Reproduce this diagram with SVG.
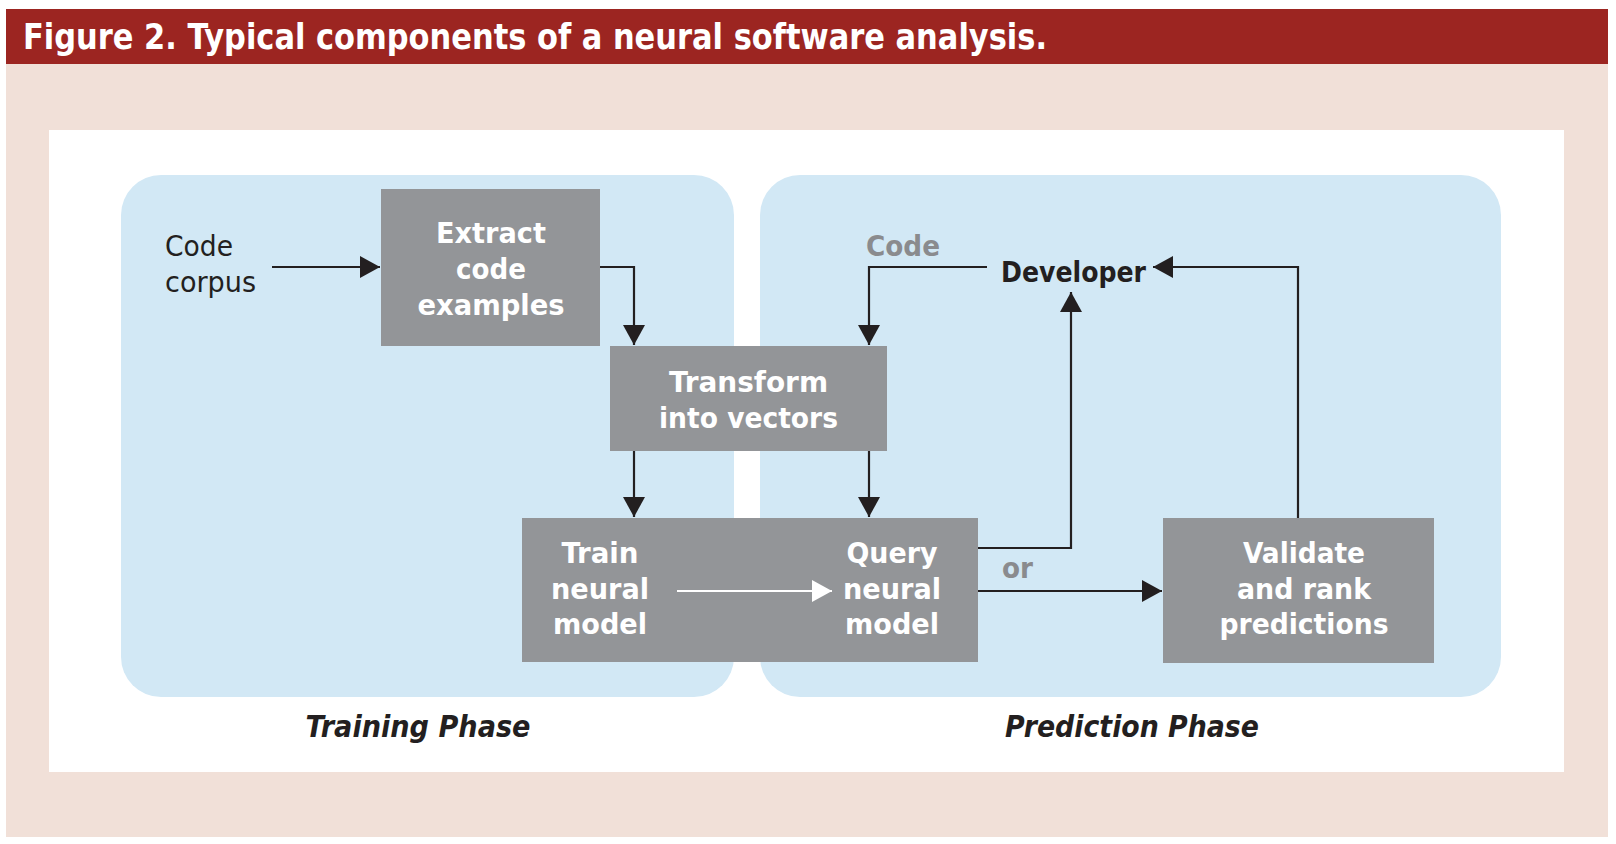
<svg xmlns="http://www.w3.org/2000/svg" width="1616" height="844" viewBox="0 0 1616 844">
<style>
.bg{fill:#ffffff}
.hdr{fill:#9c2521}
.pink{fill:#f1e0d8}
.panel{fill:#d2e8f5}
.box{fill:#939598}
.title{font-family:"DejaVu Sans Condensed","DejaVu Sans",sans-serif;font-stretch:condensed;font-weight:bold;font-size:36px;fill:#ffffff}
.bt{font-family:"DejaVu Sans Condensed","DejaVu Sans",sans-serif;font-stretch:condensed;font-weight:bold;font-size:29px;fill:#ffffff;text-anchor:middle}
.rt{font-family:"DejaVu Sans Condensed","DejaVu Sans",sans-serif;font-stretch:condensed;font-size:29px;fill:#231f20}
.dev{font-family:"DejaVu Sans Condensed","DejaVu Sans",sans-serif;font-stretch:condensed;font-weight:600;font-size:29px;fill:#231f20}
.gt{font-family:"DejaVu Sans Condensed","DejaVu Sans",sans-serif;font-stretch:condensed;font-weight:bold;font-size:28px;fill:#8a8b8e}
.ph{font-family:"DejaVu Sans Condensed","DejaVu Sans",sans-serif;font-stretch:condensed;font-weight:bold;font-style:italic;font-size:30px;fill:#231f20;text-anchor:middle}
.ln{fill:none;stroke:#231f20;stroke-width:2.2}
.wl{fill:none;stroke:#ffffff;stroke-width:2.2}
</style>
<defs>
<marker id="ah" markerUnits="userSpaceOnUse" markerWidth="20" markerHeight="22" refX="20" refY="11" orient="auto"><path d="M0,0 L20,11 L0,22 z" fill="#231f20"/></marker>
<marker id="ahw" markerUnits="userSpaceOnUse" markerWidth="20" markerHeight="22" refX="20" refY="11" orient="auto"><path d="M0,0 L20,11 L0,22 z" fill="#ffffff"/></marker>
</defs>
<rect class="bg" x="0" y="0" width="1616" height="844"/>
<rect class="pink" x="6" y="64" width="1602" height="773"/>
<rect class="hdr" x="6" y="9" width="1602" height="55"/>
<text class="title" x="23" y="49" textLength="1024" lengthAdjust="spacingAndGlyphs">Figure 2. Typical components of a neural software analysis.</text>
<rect class="bg" x="49" y="130" width="1515" height="642"/>
<g id="training-phase">
<rect class="panel" x="121" y="175" width="613" height="522" rx="40" ry="40"/>
<text class="ph" x="418" y="737" textLength="225" lengthAdjust="spacingAndGlyphs">Training Phase</text>
</g>
<g id="prediction-phase">
<rect class="panel" x="760" y="175" width="741" height="522" rx="40" ry="40"/>
<text class="ph" x="1132" y="737" textLength="254" lengthAdjust="spacingAndGlyphs">Prediction Phase</text>
</g>
<g id="code-corpus">
<text class="rt" x="165" y="256" textLength="68" lengthAdjust="spacingAndGlyphs">Code</text>
<text class="rt" x="165" y="292" textLength="91" lengthAdjust="spacingAndGlyphs">corpus</text>
</g>
<g id="extract">
<rect class="box" x="381" y="189" width="219" height="157"/>
<text class="bt" x="491" y="243" textLength="110" lengthAdjust="spacingAndGlyphs">Extract</text>
<text class="bt" x="491" y="279" textLength="70" lengthAdjust="spacingAndGlyphs">code</text>
<text class="bt" x="491" y="315" textLength="147" lengthAdjust="spacingAndGlyphs">examples</text>
</g>
<g id="transform">
<rect class="box" x="610" y="346" width="277" height="105"/>
<text class="bt" x="748.5" y="392" textLength="159" lengthAdjust="spacingAndGlyphs">Transform</text>
<text class="bt" x="748.5" y="428" textLength="179" lengthAdjust="spacingAndGlyphs">into vectors</text>
</g>
<g id="model">
<rect class="box" x="522" y="518" width="456" height="144"/>
<g id="train">
<text class="bt" x="600" y="563" textLength="77" lengthAdjust="spacingAndGlyphs">Train</text>
<text class="bt" x="600" y="599" textLength="98" lengthAdjust="spacingAndGlyphs">neural</text>
<text class="bt" x="600" y="634" textLength="94" lengthAdjust="spacingAndGlyphs">model</text>
</g>
<g id="query">
<text class="bt" x="892" y="563" textLength="91" lengthAdjust="spacingAndGlyphs">Query</text>
<text class="bt" x="892" y="599" textLength="98" lengthAdjust="spacingAndGlyphs">neural</text>
<text class="bt" x="892" y="634" textLength="94" lengthAdjust="spacingAndGlyphs">model</text>
</g>
</g>
<g id="developer">
<text class="dev" x="1001" y="282" textLength="145" lengthAdjust="spacingAndGlyphs">Developer</text>
</g>
<g id="validate">
<rect class="box" x="1163" y="518" width="271" height="145"/>
<text class="bt" x="1304" y="563" textLength="122" lengthAdjust="spacingAndGlyphs">Validate</text>
<text class="bt" x="1304" y="599" textLength="134" lengthAdjust="spacingAndGlyphs">and rank</text>
<text class="bt" x="1304" y="634" textLength="169" lengthAdjust="spacingAndGlyphs">predictions</text>
</g>
<g id="connectors">
<path class="ln" d="M272,267 H380" marker-end="url(#ah)"/>
<path class="ln" d="M600,267 H634 V345" marker-end="url(#ah)"/>
<path class="ln" d="M634,451 V517" marker-end="url(#ah)"/>
<path class="ln" d="M869,451 V517" marker-end="url(#ah)"/>
<path class="ln" d="M987,267 H869 V345" marker-end="url(#ah)"/>
<path class="wl" d="M677,591 H832" marker-end="url(#ahw)"/>
<path class="ln" d="M978,548 H1071 V292" marker-end="url(#ah)"/>
<path class="ln" d="M978,591 H1162" marker-end="url(#ah)"/>
<path class="ln" d="M1298,518 V267 H1153" marker-end="url(#ah)"/>
<text class="gt" x="866" y="256" textLength="74" lengthAdjust="spacingAndGlyphs">Code</text>
<text class="gt" x="1002" y="578" textLength="31" lengthAdjust="spacingAndGlyphs">or</text>
</g>
</svg>
